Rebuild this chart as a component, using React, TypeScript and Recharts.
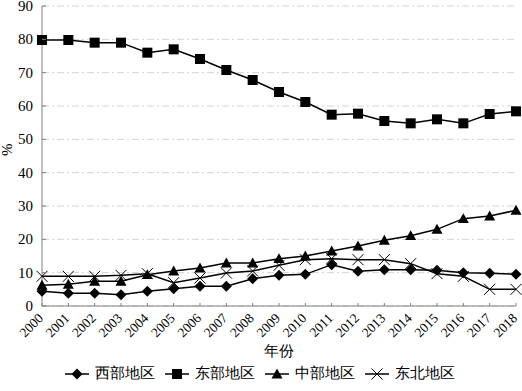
import React from "react";
import {
  LineChart,
  Line,
  XAxis,
  YAxis,
  CartesianGrid,
  Legend,
} from "recharts";

const years = [
  "2000", "2001", "2002", "2003", "2004", "2005", "2006", "2007", "2008", "2009",
  "2010", "2011", "2012", "2013", "2014", "2015", "2016", "2017", "2018",
];
const west = [4.4, 3.8, 3.8, 3.4, 4.4, 5.2, 5.9, 5.9, 8.2, 9.2, 9.5, 12.4, 10.4, 10.9, 10.9, 10.7, 10.0, 9.8, 9.5];
const east = [79.8, 79.8, 79.0, 79.0, 76.0, 77.0, 74.1, 70.8, 67.8, 64.2, 61.2, 57.4, 57.7, 55.5, 54.8, 56.0, 54.8, 57.6, 58.4];
const central = [6.2, 6.5, 7.4, 7.4, 9.4, 10.5, 11.4, 12.9, 12.9, 14.2, 15.0, 16.5, 18.0, 19.7, 21.1, 23.0, 26.2, 27.0, 28.7];
const northeast = [8.9, 8.9, 8.9, 9.2, 9.7, 7.0, 8.4, 9.9, 10.5, 12.2, 13.9, 14.2, 13.9, 13.9, 12.7, 9.7, 8.9, 5.0, 5.0];
const yTicks = [0, 10, 20, 30, 40, 50, 60, 70, 80, 90];

const seriesNames = ["西部地区", "东部地区", "中部地区", "东北地区"];
const seriesKeys = ["west", "east", "central", "northeast"];

const data = years.map((y, i) => ({
  year: y,
  west: west[i],
  east: east[i],
  central: central[i],
  northeast: northeast[i],
}));

const FONT = "Liberation Serif";
const AXIS = "#808080";

type Shape = "diamond" | "square" | "triangle" | "cross";
const shapes: Shape[] = ["diamond", "square", "triangle", "cross"];

const marker = (shape: Shape, cx: number, cy: number, key?: string | number) => {
  if (shape === "diamond") {
    const r = 5.5;
    return (
      <path key={key} d={`M${cx},${cy - r}L${cx + r},${cy}L${cx},${cy + r}L${cx - r},${cy}Z`} fill="#000" />
    );
  }
  if (shape === "square") {
    const r = 5;
    return <rect key={key} x={cx - r} y={cy - r} width={r * 2} height={r * 2} fill="#000" />;
  }
  if (shape === "triangle") {
    const r = 5.5;
    return (
      <path key={key} d={`M${cx},${cy - r}L${cx + r},${cy + r * 0.8}L${cx - r},${cy + r * 0.8}Z`} fill="#000" />
    );
  }
  const r = 5.5;
  return (
    <path
      key={key}
      d={`M${cx - r},${cy - r}L${cx + r},${cy + r}M${cx + r},${cy - r}L${cx - r},${cy + r}`}
      stroke="#000"
      strokeWidth={1}
      fill="none"
    />
  );
};

const makeDot = (shape: Shape) => (props: any) => {
  const { cx, cy, index } = props;
  if (cx == null || cy == null) return <g key={index} />;
  return marker(shape, cx, cy, index);
};

// x ticks: small inward tick mark + rotated year label
const XTick = (props: any) => {
  const { x, y, payload } = props;
  const tx = x + 2;
  const ty = y + 13;
  return (
    <g>
      <line x1={x} y1={y} x2={x} y2={y - 3} stroke={AXIS} />
      <text
        x={tx}
        y={ty}
        transform={`rotate(-45, ${tx}, ${ty})`}
        textAnchor="end"
        fontFamily={FONT}
        fontSize={13.5}
        fill="#000"
      >
        {payload.value}
      </text>
    </g>
  );
};

// y ticks: inward tick mark + right-aligned label
const YTick = (props: any) => {
  const { x, y, payload } = props;
  return (
    <g>
      <line x1={x + 9} y1={y} x2={x + 13} y2={y} stroke={AXIS} />
      <text x={x} y={y} dy={5} textAnchor="end" fontFamily={FONT} fontSize={15} fill="#000">
        {payload.value}
      </text>
    </g>
  );
};

const LegendContent = () => (
  <div
    style={{
      display: "flex",
      justifyContent: "center",
      alignItems: "center",
      fontFamily: FONT,
      fontSize: 15,
      color: "#000",
      marginLeft: 4,
    }}
  >
    {seriesNames.map((name, i) => (
      <div
        key={name}
        style={{ display: "flex", alignItems: "center", marginRight: i < seriesNames.length - 1 ? 10 : 0 }}
      >
        <svg width={24} height={14} style={{ marginRight: 6 }}>
          <line x1={0} y1={7} x2={24} y2={7} stroke="#000" strokeWidth={1.5} />
          {marker(shapes[i], 12, 7)}
        </svg>
        <span>{name}</span>
      </div>
    ))}
  </div>
);

export default function App() {
  return (
    <div style={{ position: "fixed", left: 0, top: 0, background: "#fff" }}>
      <LineChart
        width={522}
        height={391}
        data={data}
        margin={{ top: 6, right: 6, left: 0, bottom: 5 }}
      >
        <CartesianGrid
          vertical={false}
          stroke="#d4d4d4"
          strokeDasharray="7 3 2 3"
        />
        <XAxis
          dataKey="year"
          interval={0}
          height={58}
          padding={{ left: 0, right: 0 }}
          tickSize={0}
          tickMargin={0}
          axisLine={{ stroke: AXIS }}
          tickLine={false}
          tick={<XTick />}
          label={{
            value: "年份",
            position: "insideBottom",
            offset: 8,
            fontSize: 15,
            fill: "#000",
            fontFamily: FONT,
          }}
        />
        <YAxis
          width={42}
          domain={[0, 90]}
          ticks={yTicks}
          interval={0}
          tickSize={0}
          tickMargin={9}
          axisLine={{ stroke: AXIS }}
          tickLine={false}
          tick={<YTick />}
          label={{
            value: "%",
            angle: -90,
            position: "insideLeft",
            offset: 7,
            fontSize: 15,
            fill: "#000",
            fontFamily: FONT,
          }}
        />
        <Legend verticalAlign="bottom" height={22} content={<LegendContent />} />
        {seriesKeys.map((k, i) => (
          <Line
            key={k}
            type="linear"
            dataKey={k}
            name={seriesNames[i]}
            stroke="#000"
            strokeWidth={1.5}
            dot={makeDot(shapes[i])}
            activeDot={false}
            isAnimationActive={false}
          />
        ))}
      </LineChart>
    </div>
  );
}
